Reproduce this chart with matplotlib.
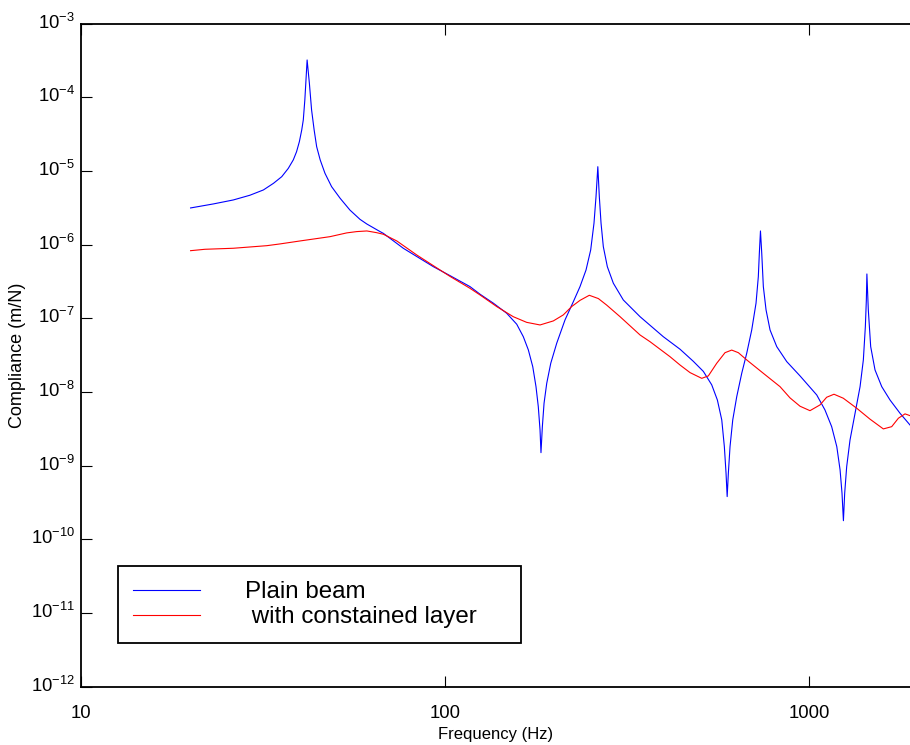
import matplotlib
matplotlib.use("Agg")
import matplotlib.pyplot as plt
from matplotlib.ticker import FixedLocator, NullLocator, FixedFormatter
from matplotlib.transforms import ScaledTranslation

plt.rcParams["font.family"] = ["Liberation Sans", "DejaVu Sans"]
plt.rcParams["mathtext.fontset"] = "custom"
plt.rcParams["mathtext.rm"] = "Liberation Sans"
plt.rcParams["mathtext.it"] = "Liberation Sans:italic"
plt.rcParams["mathtext.bf"] = "Liberation Sans:bold"

# plain beam, frequency (Hz) and compliance (m/N)
plain_f = [20.0, 23.1, 26.2, 29.1, 31.7, 33.8, 35.6, 37.1, 38.3, 39.1, 39.8, 40.4,
           40.8, 41.2, 41.5, 41.8, 42.4, 43.0, 43.7, 44.4, 45.4, 46.8, 48.8, 51.5,
           54.8, 58.4, 61.0, 66.3, 67.7, 76.8, 92.9, 103.2, 117.1, 124.8, 135.8,
           147.7, 157.4, 164.1, 169.4, 174.2, 177.8, 180.4, 182.4, 183.5, 185.1,
           187.1, 190.3, 195.2, 202.7, 213.6, 225.2, 234.9, 244.0, 251.3, 256.6,
           259.9, 262.9, 265.4, 268.3, 272.2, 279.2, 290.0, 308.9, 343.4, 397.8,
           442.2, 481.1, 512.5, 540.3, 560.0, 575.8, 585.3, 591.6, 595.8, 600.3,
           606.7, 617.2, 633.0, 653.3, 674.3, 695.9, 715.1, 725.6, 730.3, 735.5,
           741.5, 749.0, 761.9, 781.5, 815.3, 868.5, 944.7, 1050, 1106, 1154, 1192,
           1217, 1232, 1243, 1253, 1269, 1296, 1338, 1381, 1410, 1428, 1437, 1442,
           1455, 1477, 1518, 1584, 1669, 1778, 1894]
plain_c = [3.14e-6, 3.56e-6, 4.03e-6, 4.67e-6, 5.51e-6, 6.79e-6, 8.34e-6, 1.08e-5,
           1.41e-5, 1.82e-5, 2.49e-5, 3.59e-5,
           4.91e-5, 9.16e-5, 1.71e-4, 3.2e-4, 1.55e-4, 6.70e-5, 3.59e-5, 2.13e-5,
           1.41e-5, 9.27e-6, 6.11e-6, 4.25e-6,
           2.94e-6, 2.20e-6, 1.90e-6, 1.50e-6, 1.42e-6, 8.91e-7, 5.01e-7, 3.79e-7,
           2.69e-7, 2.12e-7, 1.60e-7,
           1.17e-7, 8.3e-8, 5.62e-8, 3.72e-8, 2.20e-8, 1.18e-8, 6.32e-9, 3.05e-9,
           1.50e-9, 3.38e-9,
           7.03e-9, 1.31e-8, 2.45e-8, 4.58e-8, 9.48e-8, 1.68e-7, 2.69e-7, 4.52e-7,
           8.45e-7, 1.95e-6,
           4.47e-6, 1.14e-5, 4.47e-6, 1.95e-6, 9.37e-7, 5.01e-7, 2.99e-7, 1.77e-7,
           1.05e-7, 5.62e-8,
           3.8e-8, 2.6e-8, 1.9e-8, 1.25e-8, 7.78e-9, 4.17e-9, 1.81e-9, 7.89e-10,
           3.8e-10, 7.89e-10,
           1.81e-9, 4.17e-9, 8.63e-9, 1.79e-8, 3.35e-8, 6.93e-8, 1.60e-7, 3.66e-7,
           7.62e-7, 1.53e-6,
           7.62e-7, 2.69e-7, 1.30e-7, 6.93e-8, 4.12e-8, 2.58e-8, 1.65e-8, 9.10e-9,
           5.70e-9, 3.38e-9, 1.81e-9,
           8.75e-10, 4.22e-10, 1.79e-10, 4.22e-10, 9.7e-10, 2.23e-9, 5.14e-9,
           1.18e-8, 2.72e-8, 7.69e-8, 1.77e-7, 3.99e-7,
           1.30e-7, 4.12e-8, 1.99e-8, 1.18e-8, 7.78e-9, 5.14e-9, 3.56e-9]

# beam with constrained damping layer
layer_f = [20.0, 21.9, 26.2, 32.4, 35.2, 40.0, 48.3, 53.7, 57.2, 61.0, 64.9, 67.7,
           73.7, 83.6, 103.2, 117.1, 124.8, 138.7, 154.0, 167.6, 182.4, 198.4,
           211.3, 222.8, 234.9, 249.1, 263.8, 278.0, 302.6, 343.4, 365.7, 415.0,
           442.2, 471.1, 507.3, 528.9, 557.7, 587.7, 613.2, 639.5, 674.3, 749.0,
           832.4, 886.8, 944.7, 1006, 1072, 1118, 1171, 1242, 1352, 1471, 1600,
           1687, 1760, 1835, 1894]
layer_c = [8.26e-7, 8.63e-7, 8.91e-7, 9.66e-7, 1.02e-6, 1.12e-6, 1.28e-6, 1.44e-6,
           1.50e-6, 1.53e-6, 1.45e-6, 1.38e-6,
           1.12e-6, 7.23e-7, 3.70e-7, 2.55e-7, 2.07e-7, 1.44e-7, 1.05e-7, 8.8e-8,
           8.11e-8, 9.2e-8,
           1.11e-7, 1.44e-7, 1.75e-7, 2.05e-7, 1.85e-7, 1.51e-7, 1.05e-7, 5.93e-8,
           4.81e-8, 3.01e-8,
           2.32e-8, 1.83e-8, 1.53e-8, 1.65e-8, 2.45e-8, 3.41e-8, 3.70e-8, 3.41e-8,
           2.72e-8, 1.79e-8,
           1.18e-8, 8.3e-9, 6.4e-9, 5.57e-9, 6.67e-9, 8.47e-9, 9.31e-9, 8.22e-9,
           6.01e-9, 4.27e-9, 3.15e-9,
           3.38e-9, 4.40e-9, 5.04e-9, 4.77e-9]

x_ticks = [10, 100, 1000]
x_tick_labels = ["10", "100", "1000"]
y_ticks = [1e-12, 1e-11, 1e-10, 1e-9, 1e-8, 1e-7, 1e-6, 1e-5, 1e-4, 1e-3]
y_tick_labels = [r"$\mathdefault{10^{-%d}}$" % n for n in range(12, 2, -1)]

fig = plt.figure(figsize=(9.10, 7.45), dpi=100)
ax = fig.add_axes([81 / 910, 1 - 686.7 / 745, 1 - 81 / 910, (686.7 - 23.5) / 745])

ax.plot(plain_f, plain_c, color="#0000ff", lw=0.8, label="Plain beam")
ax.plot(layer_f, layer_c, color="#ff0000", lw=0.8, label=" with constained layer")

ax.set_xscale("log")
ax.set_yscale("log")
ax.set_xlim(10, 1894)
ax.set_ylim(1e-12, 1e-3)

ax.xaxis.set_major_locator(FixedLocator(x_ticks))
ax.xaxis.set_major_formatter(FixedFormatter(x_tick_labels))
ax.xaxis.set_minor_locator(NullLocator())
ax.yaxis.set_major_locator(FixedLocator(y_ticks))
ax.yaxis.set_major_formatter(FixedFormatter(y_tick_labels))
ax.yaxis.set_minor_locator(NullLocator())

ax.tick_params(which="major", direction="in", length=8, width=0.8,
               top=True, right=False, labelsize=13.3)
ax.tick_params(axis="x", pad=13)
ax.tick_params(axis="y", pad=4.5)
for side in ["left", "top", "bottom"]:
    ax.spines[side].set_linewidth(1.3)
ax.spines["right"].set_visible(False)

# keep the "10" of each y label level with its tick, as in the original
lift = ScaledTranslation(0, 3 / 100, fig.dpi_scale_trans)
for t in ax.yaxis.get_major_ticks():
    t.label1.set_transform(t.label1.get_transform() + lift)

ax.set_xlabel("Frequency (Hz)", fontsize=12, labelpad=4)
ax.set_ylabel("Compliance (m/N)", fontsize=13)
ax.yaxis.set_label_coords(-0.066, 0.5)

leg = ax.legend(loc="lower left", bbox_to_anchor=(37 / 829, (686.7 - 643) / 663.2, 403 / 829, 0.1),
                mode="expand", fontsize=17.4, frameon=True, fancybox=False,
                edgecolor="black", framealpha=1, handlelength=2.77,
                handletextpad=1.85, borderaxespad=0, labelspacing=0.12,
                borderpad=0.62)
leg.get_frame().set_linewidth(1.3)

fig.savefig("out.png", dpi=100)
